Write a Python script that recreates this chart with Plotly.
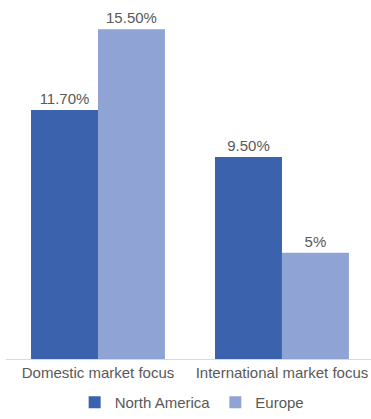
import plotly.graph_objects as go

# Share of firms by market focus and region (%)
categories = ["Domestic market focus", "International market focus"]
north_america = [11.7, 9.5]
europe = [15.5, 5.0]
north_america_labels = ["11.70%", "9.50%"]
europe_labels = ["15.50%", "5%"]

NA_COLOR = "#3B62AC"
EU_COLOR = "#8FA4D5"
TEXT_COLOR = "#595959"
FONT = "Liberation Sans, Arial, sans-serif"

fig = go.Figure()
fig.add_trace(go.Bar(
    name="North America", x=categories, y=north_america,
    text=north_america_labels, textposition="outside",
    marker=dict(color=NA_COLOR, line=dict(width=0)),
    textfont=dict(color=TEXT_COLOR, size=15, family=FONT),
    cliponaxis=False,
))
fig.add_trace(go.Bar(
    name="Europe", x=categories, y=europe,
    text=europe_labels, textposition="outside",
    marker=dict(color=EU_COLOR, line=dict(width=0)),
    textfont=dict(color=TEXT_COLOR, size=15, family=FONT),
    cliponaxis=False,
))

fig.update_layout(
    width=371, height=419,
    margin=dict(l=6, r=0, t=8, b=56),
    paper_bgcolor="white", plot_bgcolor="white",
    barmode="group", bargap=0.272, bargroupgap=0,
    font=dict(family=FONT, color=TEXT_COLOR),
    showlegend=True,
    legend=dict(
        orientation="h", x=0.51, xanchor="center",
        y=-0.124, yanchor="middle",
        font=dict(size=15, color=TEXT_COLOR, family=FONT),
        itemwidth=30, traceorder="normal",
    ),
    xaxis=dict(
        range=[-0.5, 1.484], showline=True, linecolor="#D9D9D9", linewidth=1,
        ticks="", tickfont=dict(size=15, color=TEXT_COLOR, family=FONT),
        showgrid=False, zeroline=False,
    ),
    yaxis=dict(
        range=[0, 16.5], visible=False, showgrid=False, zeroline=False,
    ),
)

fig.write_html("out.html")
